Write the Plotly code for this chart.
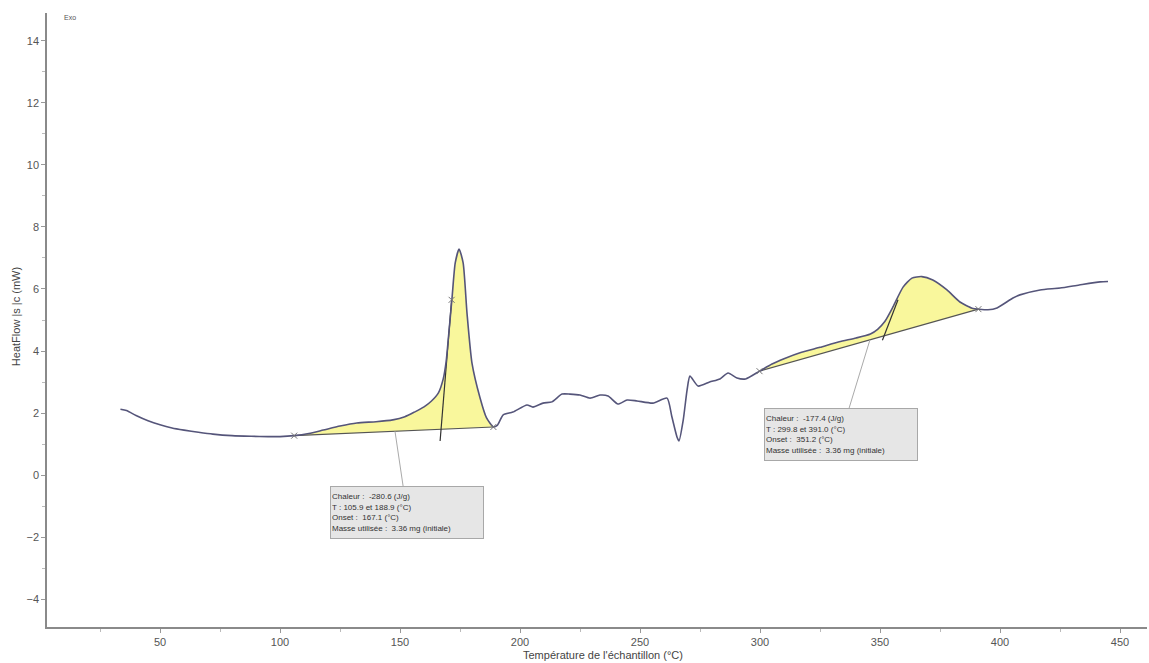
import plotly.graph_objects as go

# DSC trace: sample temperature (°C) vs heat flow (mW)
temp = [33.5, 36, 40, 45, 50, 55, 60, 66, 72, 80, 88, 95, 100, 105.9, 112, 118, 125, 132,
        140, 147, 152, 156, 160, 163, 166, 168, 169.2, 170.3, 171.7, 173, 174.6, 176.3, 177.9,
        180, 183.3, 186, 188.9, 190.5, 193, 197, 202.9, 205.4, 209.6, 213.3, 217.5,
        220.8, 225, 229.2, 233.3, 236.7, 240.8, 244.6, 248.75, 255.4, 261.25, 263.3,
        265.4, 266.25, 268, 269.6, 270.8, 274.2, 279, 283.3, 286.7, 290.4, 294, 299.8,
        305, 310, 317, 325, 333, 340, 346, 349, 352, 355.4, 359.6, 363.3, 367.4, 372,
        377.9, 383.3, 388.75, 391, 395, 398.75, 405.4, 408.3, 416.7, 425, 433, 441.7, 445]
heat = [2.12, 2.08, 1.92, 1.75, 1.62, 1.52, 1.45, 1.38, 1.32, 1.27, 1.25, 1.24, 1.24, 1.27,
        1.34, 1.45, 1.58, 1.68, 1.72, 1.78, 1.88, 2.03, 2.2, 2.38, 2.65, 3.1, 3.65, 4.55, 5.74,
        6.84, 7.29, 6.84, 5.23, 3.6, 2.5, 1.85, 1.55, 1.6, 1.94, 2.03, 2.26, 2.19, 2.32,
        2.36, 2.61, 2.61, 2.58, 2.48, 2.58, 2.55, 2.29, 2.42, 2.39, 2.32, 2.48, 1.87, 1.23,
        1.10, 1.77, 2.74, 3.19, 2.87, 3.0, 3.1, 3.29, 3.13, 3.1, 3.35, 3.58, 3.75, 3.95,
        4.12, 4.3, 4.42, 4.55, 4.7, 4.95, 5.42, 6.06, 6.35, 6.40, 6.29, 5.97, 5.58, 5.37,
        5.35, 5.33, 5.39, 5.71, 5.81, 5.97, 6.03, 6.13, 6.23, 6.24]

# Integration limits and baseline end values for the two peaks
peak_limits = [(105.9, 188.9), (299.8, 391.0)]
baseline_ends = [(1.27, 1.55), (3.35, 5.35)]
# Onset tangent segments (T, HF) pairs
tangents = [((166.7, 1.1), (171.5, 5.65)), ((351.0, 4.35), (357.5, 5.65))]

results = [
    ["Chaleur :  -280.6 (J/g)", "T : 105.9 et 188.9 (°C)", "Onset :  167.1 (°C)",
     "Masse utilisée :  3.36 mg (initiale)"],
    ["Chaleur :  -177.4 (J/g)", "T : 299.8 et 391.0 (°C)", "Onset :  351.2 (°C)",
     "Masse utilisée :  3.36 mg (initiale)"],
]
leader_temps = [147.9, 345.8]

x_ticks = [50, 100, 150, 200, 250, 300, 350, 400, 450]
y_ticks = [-4, -2, 0, 2, 4, 6, 8, 10, 12, 14]

LINE = "#55557a"
FILL = "#f9f79c"
FONT = "Liberation Sans, Arial, sans-serif"

fig = go.Figure()


def baseline_at(i, t):
    (t0, t1), (b0, b1) = peak_limits[i], baseline_ends[i]
    return b0 + (b1 - b0) * (t - t0) / (t1 - t0)


for i, (t0, t1) in enumerate(peak_limits):
    b0, b1 = baseline_ends[i]
    fig.add_trace(go.Scatter(x=[t0, t1], y=[b0, b1], mode="lines",
                             line=dict(color="#555555", width=1.2), hoverinfo="skip"))
    seg = [(t, h) for t, h in zip(temp, heat) if t0 <= t <= t1]
    fig.add_trace(go.Scatter(x=[p[0] for p in seg], y=[p[1] for p in seg], mode="lines",
                             line=dict(color=LINE, width=0, shape="spline", smoothing=0.6),
                             fill="tonexty", fillcolor=FILL, hoverinfo="skip"))

# onset tangents
for (p0, p1) in tangents:
    fig.add_trace(go.Scatter(x=[p0[0], p1[0]], y=[p0[1], p1[1]], mode="lines",
                             line=dict(color="#333333", width=1.2), hoverinfo="skip"))

# main curve
fig.add_trace(go.Scatter(x=temp, y=heat, mode="lines",
                         line=dict(color=LINE, width=1.6, shape="spline", smoothing=0.6),
                         hoverinfo="skip"))

# limit markers
mx = [t for lim in peak_limits for t in lim] + [tangents[0][1][0]]
my = [b for ends in baseline_ends for b in ends] + [tangents[0][1][1]]
fig.add_trace(go.Scatter(x=mx, y=my, mode="markers",
                         marker=dict(symbol="x-thin", size=6, line=dict(color="#777777", width=1)),
                         hoverinfo="skip"))

offsets = [(12, 81), (-29, 95)]
for i, lines in enumerate(results):
    t = leader_temps[i]
    fig.add_annotation(x=t, y=baseline_at(i, t), xref="x", yref="y",
                       text="<br>".join(lines), align="left", showarrow=True,
                       arrowhead=0, arrowwidth=1, arrowcolor="#aaaaaa",
                       ax=offsets[i][0], ay=offsets[i][1],
                       width=150, height=49, bgcolor="#e6e6e6", bordercolor="#a8a8a8",
                       borderwidth=1, borderpad=1,
                       font=dict(family=FONT, size=8, color="#333333"))

fig.add_annotation(x=0.021, y=0.992, xref="paper", yref="paper", text="Exo", showarrow=False,
                   xanchor="center", yanchor="middle",
                   font=dict(family=FONT, size=7, color="#555555"))
fig.add_annotation(text="Température de l'échantillon (°C)", xref="paper", yref="paper",
                   x=0.505, y=-0.046, yanchor="middle", showarrow=False,
                   font=dict(family=FONT, size=11, color="#444444"))
fig.add_annotation(text="HeatFlow |s |c (mW)", xref="paper", yref="paper",
                   x=-0.028, y=0.505, xanchor="center", yanchor="middle", textangle=-90,
                   showarrow=False, font=dict(family=FONT, size=11, color="#444444"))

fig.update_layout(
    width=1149, height=663,
    margin=dict(l=47, r=2, t=13, b=36),
    paper_bgcolor="white", plot_bgcolor="white",
    showlegend=False,
    font=dict(family=FONT, size=11, color="#555555"),
)
fig.update_xaxes(range=[2.9, 461.25], tickvals=x_ticks, ticks="outside", ticklen=4,
                 tickcolor="#999999", showline=True, linecolor="#8a8a8a", linewidth=1.5,
                 showgrid=False, zeroline=False,
                 minor=dict(dtick=25, tick0=0, ticks="outside", ticklen=3, tickcolor="#bbbbbb"),
                 tickfont=dict(size=11, color="#555555"))
fig.update_yaxes(range=[-4.9, 14.9], tickvals=y_ticks, ticks="outside", ticklen=4,
                 tickcolor="#999999", showline=True, linecolor="#8a8a8a", linewidth=1.5,
                 showgrid=False, zeroline=False,
                 minor=dict(dtick=1, tick0=0, ticks="outside", ticklen=3, tickcolor="#bbbbbb"),
                 tickfont=dict(size=11, color="#555555"))

fig.write_html("out.html")
